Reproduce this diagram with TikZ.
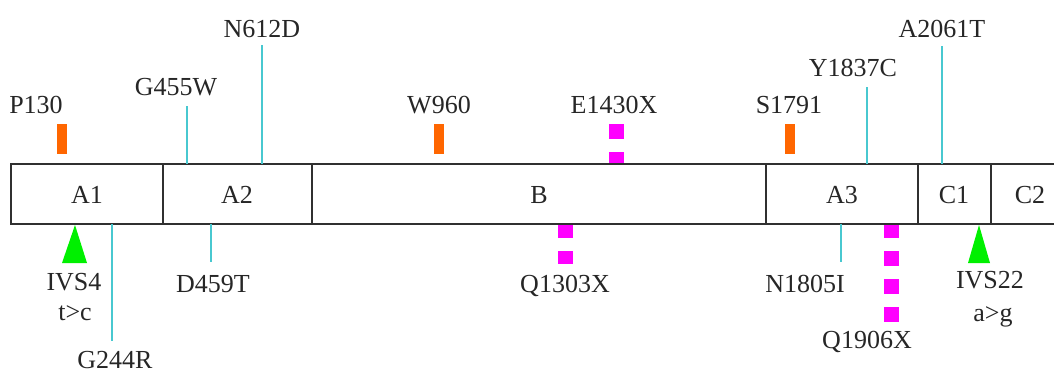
\documentclass[tikz,border=0pt]{standalone}
\usepackage{fontspec}
\setmainfont{Liberation Serif}
\definecolor{cyanl}{HTML}{48C8D0}
\definecolor{orng}{HTML}{FF6600}
\definecolor{mgnt}{HTML}{FF00FF}
\definecolor{grn}{HTML}{00F000}
\definecolor{barc}{HTML}{303030}
\begin{document}
\begin{tikzpicture}[x=1pt,y=-1pt,
  lbl/.style={inner sep=0pt, anchor=base, font=\fontsize{26}{30}\selectfont, text=black!85},
  bar/.style={draw=barc, line width=2pt},
  mline/.style={draw=cyanl, line width=1.6pt},
  obar/.style={draw=orng, line width=10pt},
  mdash/.style={draw=mgnt, line width=15pt, dash pattern=on 15pt off 13pt},
  tri/.style={fill=grn}]
\useasboundingbox (0,0) rectangle (1054,372);

% magenta dashed markers
\coordinate (e1) at (616,124); \coordinate (e2) at (616,165);
\draw[mdash] (e1) -- (e2);
\coordinate (q1) at (565,223); \coordinate (q2) at (565,264);
\draw[mdash] (q1) -- (q2);
\coordinate (r1) at (891,223); \coordinate (r2) at (891,322);
\draw[mdash] (r1) -- (r2);

% bar
\draw[bar] (1054,164) -- (11,164) -- (11,224) -- (1054,224);
\foreach \xx in {163,312,766,918,991} \draw[bar] (\xx,164) -- (\xx,224);
\node[lbl] (A1) at (87,203) {A1};
\node[lbl] (A2) at (237,203) {A2};
\node[lbl] (B) at (539,203) {B};
\node[lbl] (A3) at (842,203) {A3};
\node[lbl] (C1) at (954,203) {C1};
\node[lbl] (C2) at (1030,203) {C2};

% top labels
\node[lbl] (p130) at (36,113) {P130};
\node[lbl] (g455w) at (176,95) {G455W};
\node[lbl] (n612d) at (262,37) {N612D};
\node[lbl] (w960) at (439,113) {W960};
\node[lbl] (e1430x) at (614,113) {E1430X};
\node[lbl] (s1791) at (789,113) {S1791};
\node[lbl] (y1837c) at (853,76) {Y1837C};
\node[lbl] (a2061t) at (942,37) {A2061T};

% orange markers
\draw[obar] (62,124) -- (62,154);
\draw[obar] (439,124) -- (439,154);
\draw[obar] (790,124) -- (790,154);

% cyan lines top
\coordinate (g1) at (187,106); \coordinate (g2) at (187,164);
\draw[mline] (g1) -- (g2);
\coordinate (n1) at (262,45); \coordinate (n2) at (262,164);
\draw[mline] (n1) -- (n2);
\coordinate (y1) at (867,87); \coordinate (y2) at (867,164);
\draw[mline] (y1) -- (y2);
\coordinate (a1) at (942,46); \coordinate (a2) at (942,164);
\draw[mline] (a1) -- (a2);

% bottom
\coordinate (gg1) at (112,224); \coordinate (gg2) at (112,341);
\draw[mline] (gg1) -- (gg2);
\coordinate (d1) at (211,224); \coordinate (d2) at (211,262);
\draw[mline] (d1) -- (d2);
\coordinate (nn1) at (841,224); \coordinate (nn2) at (841,262);
\draw[mline] (nn1) -- (nn2);

\fill[tri] (75,225) -- (87,263) -- (62,263) -- cycle;
\fill[tri] (979,225) -- (990,263) -- (968,263) -- cycle;

\node[lbl] (ivs4) at (74,290) {IVS4};
\node[lbl] (tc) at (75,320) {t>c};
\node[lbl] (g244r) at (115,368) {G244R};
\node[lbl] (d459t) at (213,292) {D459T};
\node[lbl] (q1303x) at (565,292) {Q1303X};
\node[lbl] (n1805i) at (805,292) {N1805I};
\node[lbl] (q1906x) at (867,348) {Q1906X};
\node[lbl] (ivs22) at (990,288) {IVS22};
\node[lbl] (ag) at (993,321) {a>g};
\end{tikzpicture}
\end{document}
